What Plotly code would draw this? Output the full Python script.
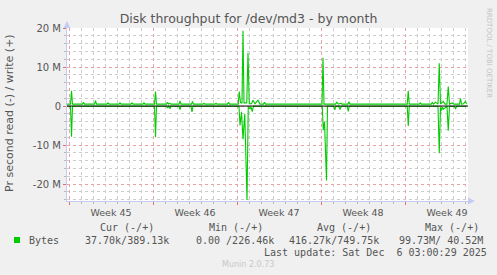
import plotly.graph_objects as go

# ---------------- data ----------------
write_times = [
    "2025-11-02 20:00", "2025-11-03 03:00", "2025-11-03 05:00", "2025-11-03 07:00",
    "2025-11-04 03:00", "2025-11-04 05:00", "2025-11-04 07:00",
    "2025-11-05 03:00", "2025-11-05 05:00", "2025-11-05 07:00",
    "2025-11-06 04:00", "2025-11-06 06:00", "2025-11-06 08:00",
    "2025-11-07 04:00", "2025-11-07 06:00", "2025-11-07 08:00",
    "2025-11-08 04:00", "2025-11-08 06:00", "2025-11-08 08:00",
    "2025-11-09 04:00", "2025-11-09 06:00", "2025-11-09 08:00",
    "2025-11-10 03:00", "2025-11-10 05:00", "2025-11-10 07:00",
    "2025-11-11 03:00", "2025-11-11 05:00", "2025-11-11 07:00", "2025-11-11 10:00", "2025-11-11 12:00",
    "2025-11-12 04:00", "2025-11-12 06:00", "2025-11-12 08:00",
    "2025-11-13 05:00", "2025-11-13 07:00", "2025-11-13 09:00",
    "2025-11-14 04:00", "2025-11-14 06:00", "2025-11-14 08:00",
    "2025-11-15 04:00", "2025-11-15 06:00", "2025-11-15 08:00",
    "2025-11-16 05:00", "2025-11-16 07:00", "2025-11-16 09:00",
    "2025-11-17 02:30", "2025-11-17 04:30", "2025-11-17 07:00", "2025-11-17 10:00",
    "2025-11-17 12:00", "2025-11-17 14:00", "2025-11-17 19:30", "2025-11-17 22:00",
    "2025-11-18 00:30", "2025-11-18 05:00", "2025-11-18 08:00", "2025-11-18 12:00",
    "2025-11-18 18:00", "2025-11-18 22:00",
    "2025-11-19 05:00", "2025-11-19 07:00", "2025-11-19 09:00",
    "2025-11-20 05:00", "2025-11-20 07:00", "2025-11-20 09:00",
    "2025-11-21 06:00", "2025-11-21 08:00", "2025-11-21 10:00",
    "2025-11-22 07:00", "2025-11-22 09:00", "2025-11-22 11:00",
    "2025-11-23 07:00", "2025-11-23 09:00", "2025-11-23 11:00",
    "2025-11-24 02:00", "2025-11-24 04:00", "2025-11-24 06:00",
    "2025-11-25 05:00", "2025-11-25 07:30", "2025-11-25 11:00", "2025-11-25 15:30", "2025-11-25 18:00",
    "2025-11-26 06:00", "2025-11-26 08:00", "2025-11-26 10:00",
    "2025-11-27 06:00", "2025-11-27 08:00", "2025-11-27 10:00",
    "2025-11-28 05:00", "2025-11-28 07:00", "2025-11-28 09:00",
    "2025-11-29 05:00", "2025-11-29 07:00", "2025-11-29 09:00",
    "2025-11-30 06:00", "2025-11-30 08:00", "2025-11-30 10:00",
    "2025-12-01 04:30", "2025-12-01 06:30", "2025-12-01 08:30",
    "2025-12-02 04:30", "2025-12-02 06:30", "2025-12-02 08:30",
    "2025-12-03 04:30", "2025-12-03 06:30", "2025-12-03 09:00", "2025-12-03 13:00",
    "2025-12-03 18:00", "2025-12-03 20:30",
    "2025-12-03 23:00", "2025-12-04 04:30", "2025-12-04 08:00", "2025-12-04 12:00", "2025-12-04 14:30",
    "2025-12-04 17:00", "2025-12-04 22:30",
    "2025-12-05 02:00", "2025-12-05 13:00", "2025-12-05 15:00", "2025-12-05 17:00",
    "2025-12-05 21:00", "2025-12-06 01:00", "2025-12-06 03:00",
]
write_mb = [
    0.5, 0.5, 3.9, 0.5,
    0.5, 1.0, 0.5,
    0.5, 1.4, 0.5,
    0.5, 0.8, 0.5,
    0.5, 0.8, 0.5,
    0.5, 0.8, 0.5,
    0.5, 0.8, 0.5,
    0.5, 3.7, 0.5,
    0.5, 1.0, 0.5, 0.7, 0.5,
    0.5, 1.3, 0.5,
    0.5, 1.2, 0.5,
    0.5, 0.7, 0.5,
    0.5, 0.7, 0.5,
    0.5, 1.0, 0.5,
    0.5, 3.7, 0.9, 0.8,
    19.3, 0.8, 0.8, 13.7,
    0.6, 0.6, 1.5, 0.6,
    1.5, 0.5,
    0.5, 1.0, 0.5,
    0.5, 0.6, 0.5,
    0.5, 0.6, 0.5,
    0.5, 0.6, 0.5,
    0.5, 0.6, 0.5,
    0.5, 12.4, 0.5,
    0.5, 1.0, 0.5, 0.7, 0.5,
    0.5, 1.1, 0.5,
    0.5, 0.6, 0.5,
    0.5, 0.6, 0.5,
    0.5, 0.6, 0.5,
    0.5, 0.6, 0.5,
    0.5, 3.9, 0.5,
    0.5, 0.8, 0.5,
    0.5, 0.9, 0.5, 1.0,
    0.5, 11.0,
    0.5, 1.2, 0.5, 0.5, 5.0,
    0.5, 0.8,
    0.5, 0.5, 2.0, 0.5,
    0.6, 1.2, 0.5,
]

read_times = [
    "2025-11-02 20:00", "2025-11-03 03:00", "2025-11-03 05:00", "2025-11-03 07:00",
    "2025-11-10 03:00", "2025-11-10 05:00", "2025-11-10 07:00",
    "2025-11-11 03:00", "2025-11-11 05:00", "2025-11-11 07:00", "2025-11-11 10:00", "2025-11-11 12:00",
    "2025-11-12 04:00", "2025-11-12 06:00", "2025-11-12 08:00",
    "2025-11-13 04:00", "2025-11-13 06:00", "2025-11-13 08:00",
    "2025-11-17 04:00", "2025-11-17 06:00", "2025-11-17 09:00", "2025-11-17 12:00",
    "2025-11-17 15:30", "2025-11-17 20:00", "2025-11-17 22:30",
    "2025-11-18 02:00", "2025-11-18 04:00", "2025-11-18 06:30", "2025-11-18 09:00",
    "2025-11-24 02:30", "2025-11-24 04:30", "2025-11-24 07:00", "2025-11-24 11:00", "2025-11-24 13:00",
    "2025-11-25 01:30", "2025-11-25 03:30", "2025-11-25 06:00", "2025-11-25 11:30",
    "2025-11-25 14:00", "2025-11-25 16:30",
    "2025-11-26 04:30", "2025-11-26 06:30", "2025-11-26 08:30",
    "2025-12-01 04:30", "2025-12-01 06:30", "2025-12-01 08:30",
    "2025-12-03 18:00", "2025-12-03 20:30", "2025-12-03 23:00",
    "2025-12-04 01:00", "2025-12-04 03:00", "2025-12-04 05:00", "2025-12-04 12:00",
    "2025-12-04 14:30", "2025-12-04 17:00",
    "2025-12-05 03:00", "2025-12-05 05:00", "2025-12-05 07:00",
    "2025-12-06 03:00",
]
read_mb = [
    0.05, 0.05, 7.9, 0.05,
    0.05, 8.0, 0.05,
    0.05, 0.5, 0.05, 0.7, 0.05,
    0.05, 0.9, 0.05,
    0.05, 1.5, 0.05,
    0.05, 5.0, 1.5, 8.5,
    2.0, 24.1, 0.3,
    0.7, 0.2, 1.4, 0.05,
    0.05, 6.2, 4.0, 19.1, 0.05,
    0.05, 1.0, 0.05, 0.05,
    0.9, 0.05,
    0.05, 1.4, 0.05,
    0.05, 5.1, 0.05,
    0.05, 12.1, 0.3,
    1.2, 0.3, 0.8, 0.05,
    6.3, 0.05,
    0.05, 0.8, 0.05,
    0.05,
]

week_starts = ["2025-11-03", "2025-11-10", "2025-11-17", "2025-11-24", "2025-12-01"]
week_label_times = ["2025-11-06 12:00", "2025-11-13 12:00", "2025-11-20 12:00",
                    "2025-11-27 12:00", "2025-12-04 12:00"]
week_labels = ["Week 45", "Week 46", "Week 47", "Week 48", "Week 49"]
ytick_vals = [-20, -10, 0, 10, 20]
ytick_text = ["-20 M", "-10 M", "0", "10 M", "20 M"]

legend_headers = ["Cur (-/+)", "Min (-/+)", "Avg (-/+)", "Max (-/+)"]
legend_name = "Bytes"
legend_values = ["37.70k/389.13k", "0.00 /226.46k", "416.27k/749.75k", "99.73M/ 40.52M"]
last_update = "Last update: Sat Dec  6 03:00:29 2025"

X_RANGE = ["2025-11-02 20:00", "2025-12-06 06:00"]
Y_RANGE = [-24.36, 20.02]

# ---------------- geometry ----------------
W, H = 497, 275
L, R, T, B = 67, 468, 28, 201


def px(x):
    return (x - L) / (R - L)


def py(y):
    return (B - y) / (B - T)


GREEN = "#00cc00"
TXT = "#555555"
MGRID = "#e8a0a0"
GRID = "#cccccc"
AXIS = "#c4ccf4"
SANS = "DejaVu Sans"
MONO = "DejaVu Sans Mono"

fig = go.Figure()
fig.add_trace(go.Scatter(x=read_times, y=[-v for v in read_mb], mode="lines",
                         line=dict(color=GREEN, width=1.1), hoverinfo="skip"))
fig.add_trace(go.Scatter(x=write_times, y=write_mb, mode="lines", xaxis="x2",
                         line=dict(color=GREEN, width=1.1), hoverinfo="skip"))

ann = []
ann.append(dict(text="Pr second read (-) / write (+)", x=px(9.5), y=py(113.5), xref="paper", yref="paper",
                textangle=-90, showarrow=False, xanchor="center", yanchor="middle",
                font=dict(family=SANS, size=11, color=TXT)))
ann.append(dict(text="RRDTOOL / TOBI OETIKER", x=px(489), y=py(53), xref="paper", yref="paper",
                textangle=90, showarrow=False, xanchor="center", yanchor="middle",
                font=dict(family=SANS, size=7, color="#c4c4c4")))
for t, x in zip(legend_headers, [98, 207, 315, 422.7]):
    ann.append(dict(text=t.replace(" ", "\u00a0"), x=px(x), y=py(227), xref="paper", yref="paper",
                    showarrow=False, xanchor="left", yanchor="middle",
                    font=dict(family=MONO, size=10, color=TXT)))
ann.append(dict(text=legend_name, x=px(26.5), y=py(240), xref="paper", yref="paper",
                showarrow=False, xanchor="left", yanchor="middle",
                font=dict(family=MONO, size=10, color=TXT)))
for t, x in zip(legend_values, [82.7, 194, 287.3, 397.3]):
    ann.append(dict(text=t.replace(" ", "\u00a0"), x=px(x), y=py(240), xref="paper", yref="paper",
                    showarrow=False, xanchor="left", yanchor="middle",
                    font=dict(family=MONO, size=10, color=TXT)))
ann.append(dict(text=last_update.replace(" ", "\u00a0"), x=px(261.7), y=py(252), xref="paper", yref="paper",
                showarrow=False, xanchor="left", yanchor="middle",
                font=dict(family=MONO, size=10, color=TXT)))
ann.append(dict(text="Munin 2.0.73", x=px(248), y=py(264), xref="paper", yref="paper",
                showarrow=False, xanchor="center", yanchor="middle",
                font=dict(family=SANS, size=8, color="#c8c8c8")))

shapes = [
    dict(type="line", xref="paper", x0=0, x1=1, yref="y", y0=0, y1=0,
         line=dict(color="black", width=1), layer="above"),
    dict(type="rect", xref="paper", yref="paper", x0=px(14), x1=px(20), y0=py(243), y1=py(237),
         fillcolor=GREEN, line=dict(width=0)),
    dict(type="path", xref="paper", yref="paper",
         path=f"M {px(63.5)},{py(28)} L {px(70.5)},{py(28)} L {px(67)},{py(21)} Z",
         fillcolor=AXIS, line=dict(width=0)),
    dict(type="path", xref="paper", yref="paper",
         path=f"M {px(468)},{py(197.5)} L {px(468)},{py(204.5)} L {px(475)},{py(201)} Z",
         fillcolor=AXIS, line=dict(width=0)),
]

fig.update_layout(
    width=W, height=H,
    margin=dict(l=L, r=W - R, t=T, b=H - B, pad=0),
    paper_bgcolor="#f0f0f0", plot_bgcolor="white",
    showlegend=False,
    title=dict(text="Disk throughput for /dev/md3 - by month", x=0.5, xref="container",
               y=1 - 19 / H, yref="container", xanchor="center", yanchor="middle",
               font=dict(family=SANS, size=12.5, color=TXT)),
    xaxis=dict(type="date", range=X_RANGE, tickmode="array", tickvals=week_starts,
               ticktext=[""] * len(week_starts), ticks="outside", ticklen=3, tickcolor="#e07070",
               showgrid=True, gridcolor=MGRID, griddash="dot", gridwidth=1,
               minor=dict(dtick=86400000, tick0="2025-11-03", showgrid=True, gridcolor=GRID,
                          griddash="dot", gridwidth=1, ticks="outside", ticklen=2, tickcolor="#b8b8b8"),
               showline=True, linecolor=AXIS, linewidth=1, zeroline=False, fixedrange=True),
    xaxis2=dict(type="date", range=X_RANGE, overlaying="x", side="bottom", anchor="y",
                tickmode="array", tickvals=week_label_times, ticktext=week_labels,
                showgrid=False, ticks="", showline=False, zeroline=False,
                tickfont=dict(family=SANS, size=9.5, color=TXT), ticklabelstandoff=4),
    yaxis=dict(range=Y_RANGE, tickmode="array", tickvals=ytick_vals, ticktext=ytick_text,
               ticks="outside", ticklen=3, tickcolor="#e07070",
               showgrid=True, gridcolor=MGRID, griddash="dot", gridwidth=1,
               minor=dict(dtick=2, tick0=0, showgrid=True, gridcolor=GRID, griddash="dot",
                          gridwidth=1, ticks="outside", ticklen=2, tickcolor="#b8b8b8"),
               showline=True, linecolor=AXIS, linewidth=1, zeroline=False,
               tickfont=dict(family=SANS, size=10, color=TXT)),
    annotations=ann,
    shapes=shapes,
)

fig.write_html("out.html")
